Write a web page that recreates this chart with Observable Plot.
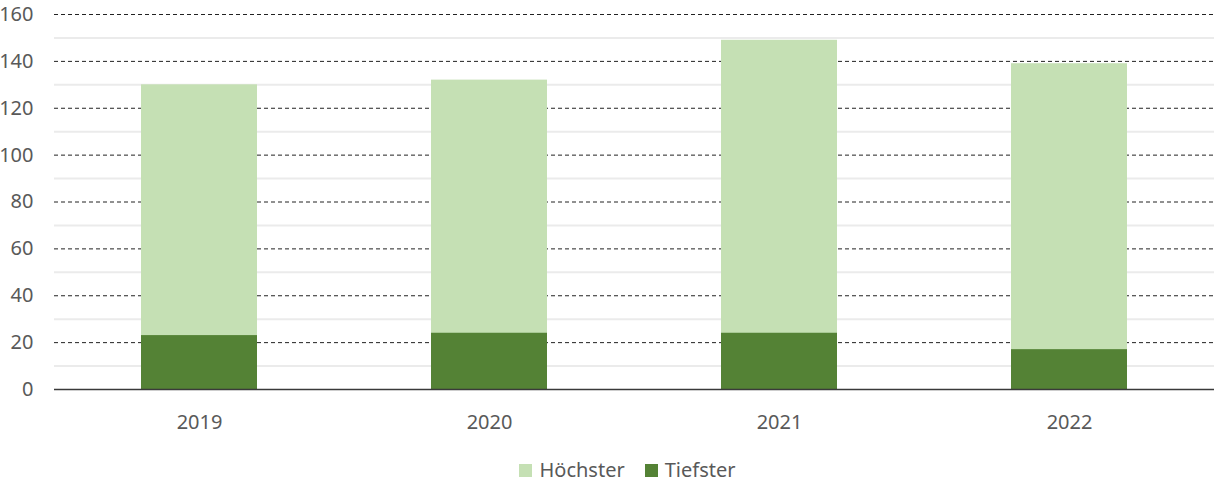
<!DOCTYPE html>
<html>
<head>
<meta charset="utf-8">
<script src="https://cdn.jsdelivr.net/npm/d3@7"></script>
<script src="https://cdn.jsdelivr.net/npm/@observablehq/plot@0.6"></script>
<style>
  body { margin: 0; background: #fff; font-family: "Noto Sans", sans-serif; overflow: hidden; }
  #legend { display: flex; justify-content: center; align-items: center; height: 26px; line-height: 26px; color: #595959; font-size: 20px; padding-left: 40px; padding-top: 12px; }
  .item { display: flex; align-items: center; margin: 0 10px; }
  .sw { width: 13px; height: 13px; margin-right: 7px; }
</style>
</head>
<body>
<div id="chart"></div>
<div id="legend"></div>
<script>
const years = ["2019", "2020", "2021", "2022"];
const hoechster = [130, 132, 149, 139];
const tiefster = [23, 24, 24, 17];
const seriesNames = ["Höchster", "Tiefster"];
const seriesColors = ["#C5E0B4", "#548235"];
const majorTicks = [0, 20, 40, 60, 80, 100, 120, 140, 160];
const minorTicks = [10, 30, 50, 70, 90, 110, 130, 150];

const data = years.map((y, i) => ({year: y, high: hoechster[i], low: tiefster[i]}));

const chart = Plot.plot({
  width: 1215,
  height: 445,
  marginLeft: 54,
  marginRight: 1,
  marginTop: 14,
  marginBottom: 56,
  style: {fontFamily: "Noto Sans, sans-serif", fontSize: "20px", color: "#595959", background: "#fff"},
  x: {domain: years, paddingInner: 0.6, paddingOuter: 0.3, label: null},
  y: {domain: [0, 160], label: null},
  marks: [
    Plot.ruleY(minorTicks, {stroke: "#ebebeb", strokeWidth: 2}),
    Plot.ruleY(majorTicks.filter(d => d > 0), {stroke: "#222", strokeWidth: 1, strokeDasharray: "4,3"}),
    Plot.barY(data, {x: "year", y: "high", fill: seriesColors[0]}),
    Plot.barY(data, {x: "year", y: "low", fill: seriesColors[1]}),
    Plot.ruleY([0], {stroke: "#3a3a3a", strokeWidth: 1.5}),
    Plot.axisY({ticks: majorTicks, tickSize: 0, tickPadding: 21, fill: "#595959", label: null}),
    Plot.axisX({tickSize: 0, tickPadding: 25, fill: "#595959", label: null})
  ]
});
document.getElementById("chart").appendChild(chart);

const legend = document.getElementById("legend");
seriesNames.forEach((n, i) => {
  const it = document.createElement("div");
  it.className = "item";
  const sw = document.createElement("div");
  sw.className = "sw";
  sw.style.background = seriesColors[i];
  const t = document.createElement("span");
  t.textContent = n;
  it.appendChild(sw); it.appendChild(t);
  legend.appendChild(it);
});
</script>
</body>
</html>
